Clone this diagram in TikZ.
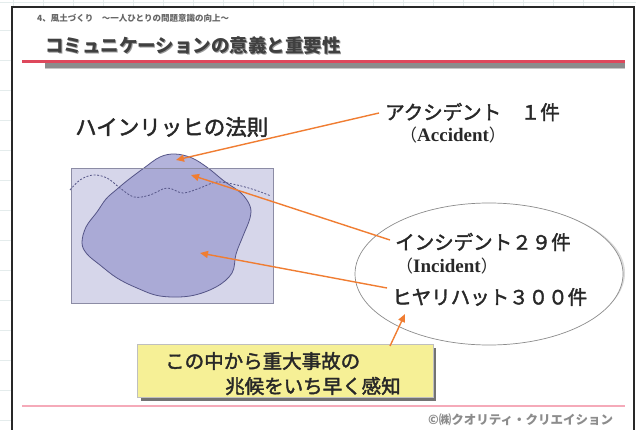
\documentclass[tikz,border=0pt]{standalone}
\usepackage{fontspec}
\setmainfont{Noto Sans CJK JP}
\newfontfamily\jp{Noto Sans CJK JP}
\newfontfamily\jpm[FakeBold=2]{Noto Sans CJK JP}
\newfontfamily\lat{Liberation Serif}
\usetikzlibrary{arrows.meta,shapes.geometric}
\definecolor{framegray}{RGB}{40,40,40}
\definecolor{gridc}{RGB}{228,236,236}
\definecolor{titlered}{RGB}{222,72,92}
\definecolor{footpink}{RGB}{245,170,185}
\definecolor{rectfill}{RGB}{214,214,234}
\definecolor{rectline}{RGB}{140,140,165}
\definecolor{blobfill}{RGB}{160,160,210}
\definecolor{blobline}{RGB}{85,85,135}
\definecolor{arrowc}{RGB}{240,125,50}
\definecolor{notefill}{RGB}{246,240,150}
\definecolor{txt}{RGB}{40,40,40}
\tikzset{
  lbl/.style={inner sep=0pt, text=txt, font=\jpm\fontsize{19.5}{22}\selectfont},
  paren/.style={inner sep=0pt, text=txt},
  pointer/.style={draw=arrowc, line width=1.4pt, -{Triangle[length=8pt,width=7pt]}},
}
\newcommand{\engl}[1]{{\jp\fontsize{17}{19}\selectfont （}{\lat\bfseries\fontsize{19}{21}\selectfont #1}{\jp\fontsize{17}{19}\selectfont ）}}
\begin{document}
\begin{tikzpicture}[x=1pt,y=-1pt]
  \useasboundingbox (0,0) rectangle (636,430);
  \fill[white] (0,0) rectangle (636,430);
  % faint sheet grid around the slide
  \foreach \gx in {13,43,...,613} \draw[gridc, line width=0.6pt] (\gx,0) -- (\gx,7);
  \draw[gridc, line width=0.6pt] (0,2) -- (636,2);
  \foreach \gy in {30,60,...,420} \draw[gridc, line width=0.6pt] (0,\gy) -- (12,\gy);
  % slide frame
  \draw[framegray, line width=1.4pt] (12,432) -- (12,7) -- (634,7) -- (634,432);

  % header line and title
  \node[anchor=west, inner sep=0pt, text=gray!80!black, font=\jp\bfseries\fontsize{8.5}{10}\selectfont] (hdr) at (37,18) {4、風土づくり　～一人ひとりの問題意識の向上～};
  \node[anchor=west, inner sep=0pt, text=black!40, font=\jp\bfseries\fontsize{18.5}{20}\selectfont] (ttlsh) at (46,47) {コミュニケーションの意義と重要性};
  \node[anchor=west, inner sep=0pt, text=black!75, font=\jp\bfseries\fontsize{18.5}{20}\selectfont] (ttl) at (45,46) {コミュニケーションの意義と重要性};
  \fill[black!45] (45,63.5) rectangle (625,68);
  \fill[black!22] (45,68) rectangle (625,69.5);
  \draw[titlered, line width=2.6pt] (22,61.5) -- (625,61.5);

  % Heinrich law heading
  \node[anchor=west, inner sep=0pt, text=txt, font=\jpm\fontsize{21.5}{24}\selectfont] (law) at (75,127) {ハインリッヒの法則};

  % pyramid block
  \fill[rectfill] (71,168) rectangle (273,303);
  \fill[blobfill, fill opacity=0.8, draw=blobline, line width=0.8pt]
    plot[smooth cycle, tension=0.6] coordinates {
      (175,154) (192,158) (208,168) (224,181) (241,193) (250,206) (250,218)
      (243,236) (236,254) (232,273) (216,287) (190,296) (160,296) (137,288)
      (117,278) (100,265) (87,254) (82,243) (86,227) (97,212) (106,199)
      (116,190) (128,180) (144,168) (160,157)};
  \draw[rectline, line width=0.9pt] (71,168) rectangle (273,303);
  \draw[blobline, dashed, dash pattern=on 2pt off 1.6pt, line width=0.8pt]
    plot[smooth, tension=0.6] coordinates {
      (70,190) (80,180) (93,175) (107,178) (120,188) (134,197) (150,195)
      (167,188) (183,193) (200,188) (217,182) (237,185) (255,190) (271,196)};

  % targets inside the block
  \coordinate (pAcc) at (176,160);
  \coordinate (pInc) at (191,175);
  \coordinate (pNear) at (200,253);

  % ellipse with soft shadow on its right
  \fill[black!14] (491,273) ellipse [x radius=134, y radius=69];
  \node[draw=black!45, fill=white, line width=0.7pt, ellipse, minimum width=268pt, minimum height=142pt, inner sep=0pt] (oval) at (489,274) {};

  % labels
  \node[lbl, anchor=west] (acc) at (385,112) {アクシデント　１件};
  \node[paren, anchor=west] (accen) at (400,135) {\engl{Accident}};
  \node[lbl, anchor=west] (inc) at (395,242) {インシデント２９件};
  \node[paren, anchor=west] (incen) at (396,266) {\engl{Incident}};
  \node[lbl, anchor=west] (near) at (392,297) {ヒヤリハット３００件};

  % note box
  \fill[black!55] (141,348) rectangle (436,401);
  \node[draw=black!25, fill=notefill, line width=0.5pt, minimum width=296pt, minimum height=53pt, inner sep=0pt, anchor=north west] (note) at (137,344) {};
  \node[anchor=west, inner sep=0pt, text=txt, font=\jpm\fontsize{19.5}{22}\selectfont] (note1) at (165,361) {この中から重大事故の};
  \node[anchor=west, inner sep=0pt, text=txt, font=\jpm\fontsize{19.5}{22}\selectfont] (note2) at (225,386) {兆候をいち早く感知};

  % arrow tails
  \coordinate (sAcc) at (379,113);
  \coordinate (sInc) at (390,240);
  \coordinate (sNear) at (387,288);
  \coordinate (sNote) at (390,346);
  \coordinate (tNote) at (405,314);

  \draw[pointer] (sAcc) -- (pAcc);
  \draw[pointer] (sInc) -- (pInc);
  \draw[pointer] (sNear) -- (pNear);
  \draw[pointer] (sNote) -- (tNote);

  % footer
  \draw[footpink, line width=1.8pt] (22,406) -- (625,406);
  \node[anchor=west, inner sep=0pt, text=black!45, font=\jp\bfseries\fontsize{12.5}{14}\selectfont] (copy) at (428,420) {©㈱クオリティ・クリエイション};
\end{tikzpicture}
\end{document}
